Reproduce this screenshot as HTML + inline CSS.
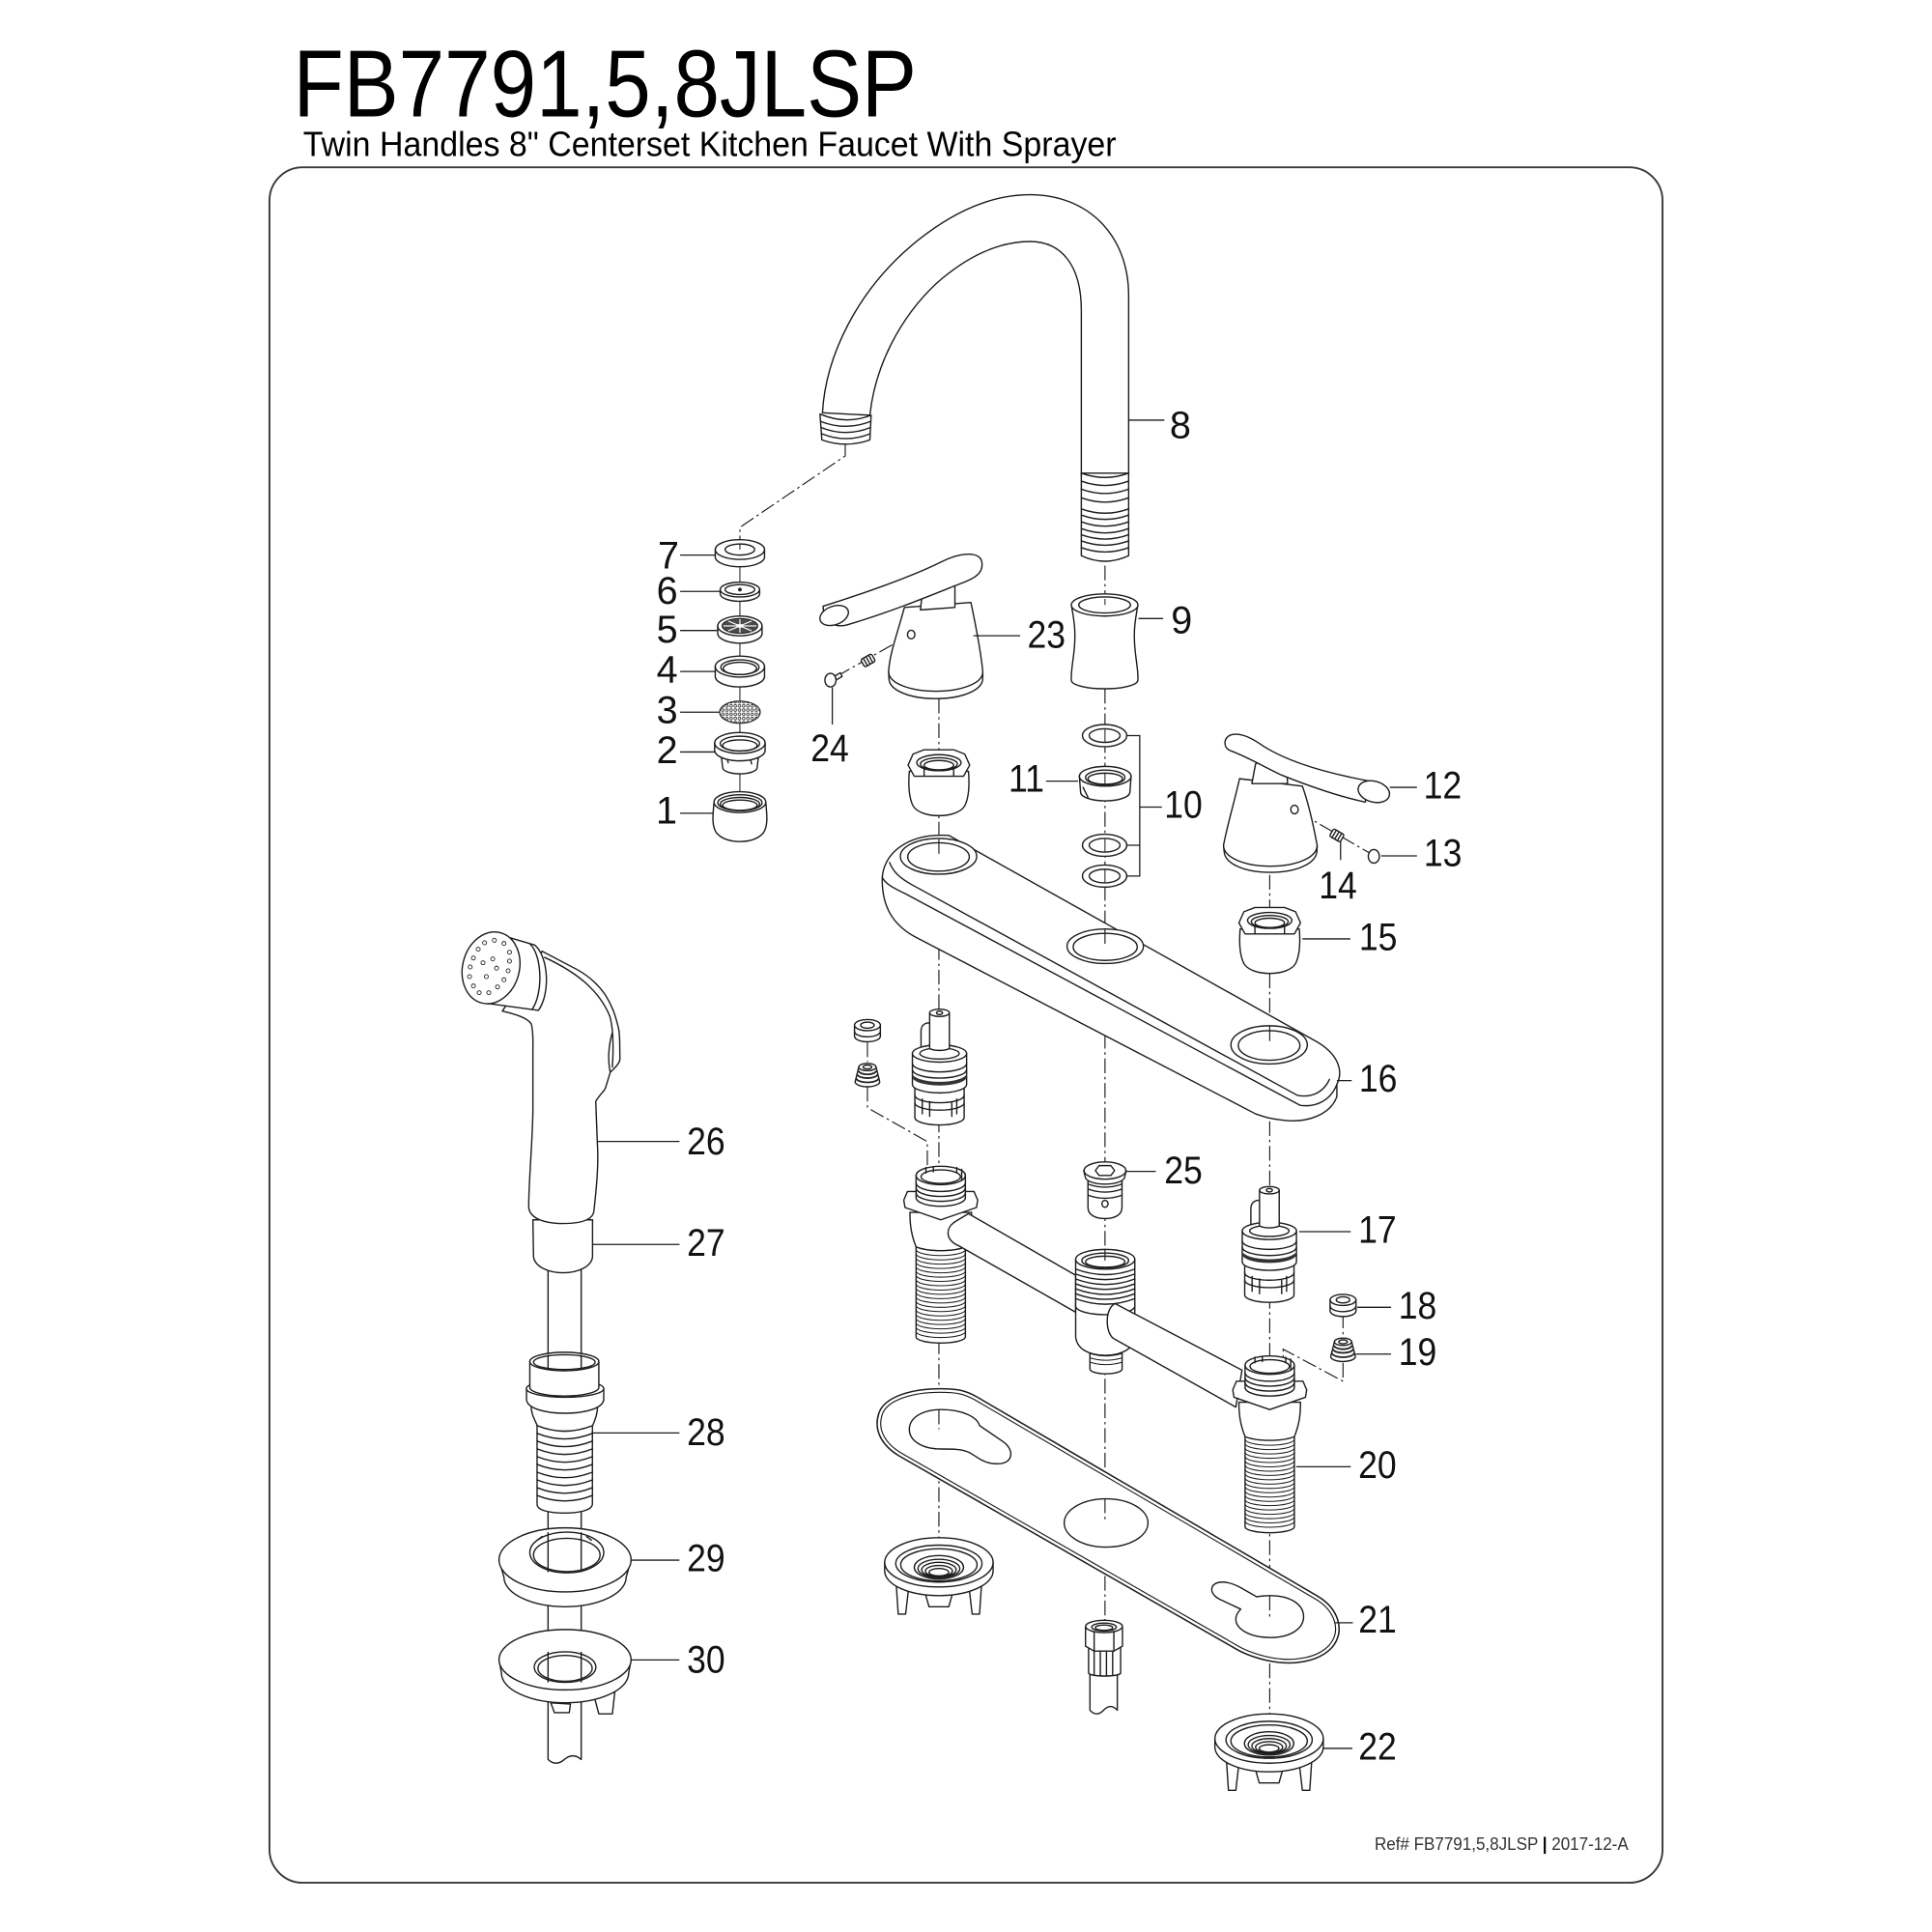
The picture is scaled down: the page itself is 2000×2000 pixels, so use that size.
<!DOCTYPE html>
<html><head><meta charset="utf-8"><title>FB7791,5,8JLSP</title>
<style>
html,body{margin:0;padding:0;background:#fff;}
svg{display:block;}
.l{fill:none;stroke:#1c1c1c;stroke-width:1.1;stroke-linejoin:round;stroke-linecap:round}
.w{fill:#fff;stroke:#1c1c1c;stroke-width:1.1;stroke-linejoin:round}
.t{fill:none;stroke:#1c1c1c;stroke-width:0.8}
.dd{fill:none;stroke:#1c1c1c;stroke-width:0.9;stroke-dasharray:12 3 2 3}
.ld{fill:none;stroke:#1c1c1c;stroke-width:1}
.n{font-family:"Liberation Sans",Arial,sans-serif;font-size:31px;fill:#111;text-anchor:middle}
</style></head>
<body>
<svg xmlns="http://www.w3.org/2000/svg" xmlns:xlink="http://www.w3.org/1999/xlink" width="2000" height="2000" viewBox="0 0 1568 1568">
<defs>
<pattern id="mesh" width="3.4" height="3.4" patternUnits="userSpaceOnUse"><rect width="3.4" height="3.4" fill="#fff"/><circle cx="1.7" cy="1.7" r="1.1" fill="none" stroke="#222" stroke-width="0.6"/></pattern>
<g id="nut">
 <path class="w" d="M738,626 C737,638 738,648 741,654 C744,659 752,662 762,662 C772,662 780,659 783,654 C786,648 787,638 786,626 Z"/>
 <path class="w" d="M737,621 L741,612 L750,608.5 L774,608.5 L783,612 L787,621 L782,630 L742,630 Z"/>
 <ellipse class="l" cx="762" cy="619" rx="18" ry="6.5"/>
 <ellipse class="l" cx="762" cy="620" rx="15" ry="5"/>
 <ellipse class="l" cx="762" cy="621" rx="12" ry="3.8"/>
 <path class="l" d="M750,623 L750,630 M774,623 L774,630"/>
</g>
<g id="cart">
 <path class="w" d="M-20,60 L-20,88 A20,6 0 0 0 20,88 L20,60 Z"/>
 <path class="l" d="M-20,70 A20,6 0 0 0 20,70 M-20,76 A20,6 0 0 0 20,76"/>
 <path class="l" d="M-14,73 L-14,85 M-8,75 L-8,87 M10,76 L10,87 M14,73 L14,85"/>
 <path class="w" d="M-15,18 C-15,12 -10,10 -6,12 L-6,36 L-15,36 Z"/>
 <path class="w" d="M-22,36 L-22,61 A22,7 0 0 0 22,61 L22,36 Z"/>
 <ellipse class="w" cx="0" cy="36" rx="22" ry="7"/>
 <ellipse class="l" cx="0" cy="36" rx="16" ry="4.5"/>
 <path class="l" d="M-22,44 A22,7 0 0 0 22,44 M-22,49 A22,7 0 0 0 22,49"/>
 <path d="M-22,52 A22,7 0 0 0 22,52 L22,55 A22,7 0 0 1 -22,55 Z" fill="#333"/>
 <path class="w" d="M-8,3 L-8,32 C-4,34 4,34 8,32 L8,3 Z"/>
 <ellipse class="w" cx="0" cy="3" rx="8" ry="3"/>
 <ellipse class="l" cx="0" cy="3" rx="2.5" ry="1.4"/>
</g>
<g id="seat">
 <path class="w" d="M-10.5,0 L-10.5,9 A10.5,4.5 0 0 0 10.5,9 L10.5,0 Z"/>
 <ellipse class="w" cx="0" cy="0" rx="10.5" ry="4.5"/>
 <ellipse class="l" cx="0" cy="0" rx="5.5" ry="2.5"/>
 <path class="l" d="M-10.5,5 A10.5,4.5 0 0 0 10.5,5"/>
</g>
<g id="spring">
 <path class="w" d="M-7,0 L-10,12 A10,4 0 0 0 10,12 L7,0 Z"/>
 <path d="M-7,3 A7,3 0 0 0 7,3 M-8,6 A8,3 0 0 0 8,6 M-9,9 A9,3.5 0 0 0 9,9" fill="none" stroke="#222" stroke-width="1.4"/>
 <ellipse class="w" cx="0" cy="0" rx="7" ry="3"/>
 <ellipse class="l" cx="0" cy="0" rx="3.5" ry="1.6"/>
</g>
<g id="vbl">
 <path class="w" d="M-20,62 L-20,139 A20,5 0 0 0 20,139 L20,62 Z"/>
 <path class="t" d="M-20,68 A20,5 0 0 0 20,68 M-20,71.5 A20,5 0 0 0 20,71.5 M-20,75 A20,5 0 0 0 20,75 M-20,78.5 A20,5 0 0 0 20,78.5 M-20,82 A20,5 0 0 0 20,82 M-20,85.5 A20,5 0 0 0 20,85.5 M-20,89 A20,5 0 0 0 20,89 M-20,92.5 A20,5 0 0 0 20,92.5 M-20,96 A20,5 0 0 0 20,96 M-20,99.5 A20,5 0 0 0 20,99.5 M-20,103 A20,5 0 0 0 20,103 M-20,106.5 A20,5 0 0 0 20,106.5 M-20,110 A20,5 0 0 0 20,110 M-20,113.5 A20,5 0 0 0 20,113.5 M-20,117 A20,5 0 0 0 20,117 M-20,120.5 A20,5 0 0 0 20,120.5 M-20,124 A20,5 0 0 0 20,124 M-20,127.5 A20,5 0 0 0 20,127.5 M-20,131 A20,5 0 0 0 20,131 M-20,134.5 A20,5 0 0 0 20,134.5"/>
 <path class="w" d="M-25,38 C-25,48 -24,56 -20,66 C-10,70 10,70 20,66 C24,56 25,48 25,38 Z"/>
</g>
<g id="vbu">
 <path class="w" d="M-30,28 L-27,21 L27,21 L30,28 L29,34 L0,44 L-29,34 Z"/>
 <path class="w" d="M-20,8 L-20,26 A20,7 0 0 0 20,26 L20,8 Z"/>
 <path class="l" d="M-20,14 A20,7 0 0 0 20,14 M-20,18 A20,7 0 0 0 20,18 M-20,22 A20,7 0 0 0 20,22"/>
 <ellipse class="w" cx="0" cy="8" rx="20" ry="7.5"/>
 <ellipse class="l" cx="0" cy="9" rx="16" ry="5.5"/>
 <path class="l" d="M-12,1.5 L-12,6 M-6,0.8 L-6,5 M13,1.5 L13,6 M17,3 L17,12"/>
</g>
<g id="mnut">
 <path class="w" d="M-35,12 L-33,42 L-27,42 L-24,16 Z"/>
 <path class="w" d="M24,16 L27,42 L33,42 L35,12 Z"/>
 <path class="l" d="M-12,22 L-8,36 L8,36 L12,22"/>
 <path class="w" d="M-44,0 L-44,7 A44,20 0 0 0 44,7 L44,0 Z"/>
 <ellipse class="w" cx="0" cy="0" rx="44" ry="20"/>
 <ellipse class="l" cx="0" cy="1" rx="35" ry="15"/>
 <ellipse class="l" cx="0" cy="2" rx="31" ry="13"/>
 <ellipse class="w" cx="0" cy="4" rx="20" ry="9.5"/>
 <ellipse class="l" cx="0" cy="5" rx="17" ry="7.5"/>
 <ellipse class="l" cx="0" cy="6" rx="14" ry="6"/>
 <ellipse class="l" cx="0" cy="7" rx="11" ry="4.5"/>
 <ellipse class="l" cx="0" cy="8" rx="8" ry="3"/>
</g>
<path id="p21" d="M763,1130 C776,1130 782,1131 791,1136 L1068,1298 C1083,1307 1089,1323 1079,1335 C1069,1346 1049,1349 1030,1345 C1021,1343 1012,1340 1005,1336 L731,1179 C718,1171 712,1160 716,1148 C720,1136 741,1130 763,1130 Z"/>
</defs>

<!-- frame & titles -->
<rect x="218.7" y="135.8" width="1130.6" height="1392.2" rx="27" ry="27" fill="none" stroke="#3a3a3a" stroke-width="1.5"/>
<text x="238" y="94.6" font-family="Liberation Sans, Arial, sans-serif" font-size="77" fill="#000" textLength="506" lengthAdjust="spacingAndGlyphs">FB7791,5,8JLSP</text>
<text x="246" y="126.8" font-family="Liberation Sans, Arial, sans-serif" font-size="28" fill="#000" textLength="660" lengthAdjust="spacingAndGlyphs">Twin Handles 8" Centerset Kitchen Faucet With Sprayer</text>
<text x="1115.6" y="1501.4" font-family="Liberation Sans, Arial, sans-serif" font-size="14.3" fill="#333" textLength="206" lengthAdjust="spacingAndGlyphs">Ref# FB7791,5,8JLSP <tspan font-weight="bold" fill="#000">|</tspan> 2017-12-A</text>

<!-- axis lines -->
<path class="dd" d="M896.8,459 L896.8,1317"/>
<path class="dd" d="M762,567 L762,1265"/>
<path class="dd" d="M1030.5,710 L1030.5,1410"/>
<path class="dd" d="M686,360 L686,370 L600.5,428 L600.5,440"/>
<path class="dd" d="M679,549 L737,516"/>
<path class="dd" d="M1054,659 L1111,692"/>
<path class="dd" d="M704,846 L704,862"/>
<path class="dd" d="M704,882 L704,899 L752.6,926.5 L752.6,946"/>
<path class="dd" d="M1090,1066 L1090,1087"/>
<path class="dd" d="M1090,1106 L1090,1121 L1041.4,1095 L1041.4,1124"/>

<!-- spout 8 -->
<path class="w" d="M667.5,335 C670,290 695,235 745,195 C775,171 805,158 836,158 C882,158 916,190 916,240 L916,386 L877.6,386 L877.6,252 C877.6,216 862,196 836,196 C810,196 785,208 760,230 C730,258 710,298 706,337 Z"/>
<path class="w" d="M665.5,336 L667,357 Q686.5,364 706,357 L707,337 Q686.5,345 665.5,336 Z"/>
<path class="l" d="M666,342 Q686.5,350 706.5,342 M666.5,347 Q686.5,355 706.3,347 M667,352 Q686.5,360 706.2,352"/>
<path class="w" d="M877.6,384 L877.6,451 Q896.8,460 916,451 L916,384 Z"/>
<path class="l" d="M877.6,384 Q896.8,391 916,384 M877.6,390.5 Q896.8,397.5 916,390.5 M877.6,397 Q896.8,404 916,397 M877.6,404 Q896.8,411 916,404 M877.6,413 Q896.8,420 916,413 M877.6,418 Q896.8,425 916,418 M877.6,423.5 Q896.8,430.5 916,423.5 M877.6,429 Q896.8,436 916,429 M877.6,434 Q896.8,441 916,434 M877.6,439 Q896.8,446 916,439 M877.6,444.5 Q896.8,451.5 916,444.5"/>

<!-- aerator stack -->
<path class="t" d="M600.5,440 L600.5,656"/>
<path class="w" d="M580.5,446 L580.5,452 A20,8 0 0 0 620.5,452 L620.5,446 Z"/><ellipse class="w" cx="600.5" cy="446" rx="20" ry="8"/><ellipse class="w" cx="600.5" cy="446" rx="12" ry="4.5"/>
<path class="t" d="M600.5,441.5 L600.5,446"/>
<path class="w" d="M584.5,478.5 L584.5,482 A16,6 0 0 0 616.5,482 L616.5,478.5 Z"/><ellipse class="w" cx="600.5" cy="478.5" rx="16" ry="6"/><ellipse class="l" cx="600.5" cy="478.5" rx="12" ry="4"/><circle cx="600.5" cy="478.5" r="1.5" fill="#222"/>
<path class="w" d="M582.5,508 L582.5,514 A18,8 0 0 0 618.5,514 L618.5,508 Z"/><ellipse class="w" cx="600.5" cy="508" rx="18" ry="8"/>
<ellipse cx="600.5" cy="508" rx="14.5" ry="6" fill="#4a4a4a" stroke="#222" stroke-width="0.8"/>
<path d="M587,508 L614,508 M600.5,502.5 L600.5,513.5 M591,504 L610,512 M591,512 L610,504" stroke="#fff" stroke-width="0.9" fill="none"/>
<ellipse cx="600.5" cy="508" rx="3" ry="1.5" fill="#fff"/>
<path class="w" d="M580.5,541 L580.5,549 A20,8.5 0 0 0 620.5,549 L620.5,541 Z"/><ellipse class="w" cx="600.5" cy="541" rx="20" ry="8.5"/><ellipse class="l" cx="600.5" cy="541.5" rx="15.5" ry="6"/><ellipse class="l" cx="600.5" cy="542.5" rx="13.5" ry="5"/>
<ellipse cx="600.5" cy="578" rx="16.5" ry="9" fill="url(#mesh)" stroke="#222" stroke-width="0.9"/>
<path class="w" d="M585,610 L586.5,623 A14,5 0 0 0 614.5,623 L616,610 Z"/>
<path class="l" d="M590,615 L591,619 M609,616 L610,620"/>
<path class="w" d="M580,603 L580,609 A20.5,8.5 0 0 0 621,609 L621,603 Z"/><ellipse class="w" cx="600.5" cy="603" rx="20.5" ry="8.5"/><ellipse class="l" cx="600.5" cy="603.5" rx="16" ry="6"/><ellipse class="l" cx="600.5" cy="605" rx="14" ry="4.5"/>
<path class="w" d="M579.5,651 C578.5,662 577.5,670 581.5,676 C586,681 593,683 600.5,683 C608,683 615,681 619.5,676 C623.5,670 622.5,662 621.5,651 Z"/>
<ellipse class="w" cx="600.5" cy="651" rx="21" ry="8.5"/><ellipse class="l" cx="600.5" cy="651.5" rx="18" ry="6.5"/><ellipse class="l" cx="600.5" cy="652.5" rx="16" ry="5.3"/><ellipse class="l" cx="600.5" cy="653.5" rx="14" ry="4.2"/>
<path class="ld" d="M552,450.5 L580.5,450.5 M552,480 L584.5,480 M552,511.7 L582.5,511.7 M552,545 L580.5,545 M552,578 L584,578 M552,610.3 L580,610.3 M552,660 L578.5,660"/>

<!-- handle 23 -->
<path class="w" d="M721.2,545 L721.5,551 C722,561 740,567 759.5,567 C779,567 797,561 797.6,551 L797.6,545 Z"/>
<path class="w" d="M734,493 C729,512 722,530 721.2,545 C721,555 740,561 759.5,561 C779,561 798,555 797.6,545 C796,528 792,508 788,489 Z"/>
<path class="w" d="M747,495 L749,477 C755,472 769,472 775,476 L775,493 Z"/>
<path class="w" d="M668,492 C700,482 740,468 764,456 C780,448 796,447 797,457 C798,466 790,470 776,475 C756,483 722,497 688,507 C678,510 668,505 668,492 Z"/>
<ellipse class="w" cx="677" cy="499.5" rx="12" ry="7.5" transform="rotate(-20 677 499.5)"/>
<ellipse class="w" cx="739.5" cy="515" rx="3" ry="3.5"/>
<g transform="translate(704.5,536) rotate(-29.4)"><rect class="w" x="-5" y="-3.5" width="10" height="7" rx="1.5"/><path d="M-2.5,-3.5 L-2.5,3.5 M0,-3.5 L0,3.5 M2.5,-3.5 L2.5,3.5" stroke="#222" stroke-width="1.1"/></g>
<path class="w" d="M677,549 L682,546 L683.5,549 L678.5,552 Z"/>
<ellipse class="w" cx="674" cy="552" rx="4.5" ry="5.5"/>
<path class="ld" d="M675.5,558 L675.5,588 M790,516 L828,516"/>
<use href="#nut" xlink:href="#nut"/>

<!-- 9, 10, 11 -->
<path class="w" d="M869.5,491 C872,505 873,512 872,525 C871,537 869,545 869.5,552 A27,7 0 0 0 923.5,552 C924,545 922,537 921,525 C920,512 921,505 923.5,491 Z"/>
<ellipse class="w" cx="896.5" cy="491" rx="27" ry="9"/><ellipse class="l" cx="896.5" cy="491" rx="21" ry="6.5"/>
<path class="t" d="M896.8,486 L896.8,491"/>
<ellipse class="w" cx="896.5" cy="597" rx="18" ry="9"/><ellipse class="w" cx="896.5" cy="597" rx="12.5" ry="5.5"/>
<path class="w" d="M876,630 L877,643 A20,7 0 0 0 917,643 L918,630 Z"/>
<ellipse class="w" cx="897" cy="630" rx="21" ry="8"/><ellipse class="l" cx="897" cy="631" rx="16" ry="6"/><ellipse class="l" cx="897" cy="632" rx="14" ry="4.5"/>
<path class="l" d="M879,639 L883,647"/>
<ellipse class="w" cx="896.5" cy="686" rx="18" ry="9"/><ellipse class="w" cx="896.5" cy="686" rx="12.5" ry="5.5"/>
<ellipse class="w" cx="896.5" cy="711" rx="18" ry="9"/><ellipse class="w" cx="896.5" cy="711" rx="12.5" ry="5.5"/>
<path class="t" d="M896.8,592 L896.8,602 M896.8,627 L896.8,637 M896.8,681 L896.8,691 M896.8,706 L896.8,716"/>
<path class="ld" d="M914.5,597 L925,597 L925,711 L914.5,711 M914.5,686 L925,686 M925,655 L943,655 M849,634 L875,634 M924,502 L944,502 M916,341 L945,341"/>

<!-- handle 12 -->
<path class="w" d="M993,686 L993.5,691 C994,701 1010,708 1031,708 C1052,708 1068,701 1068.8,691 L1069,686 Z"/>
<path class="w" d="M1006,632 C1002,650 996,670 993,686 C993,696 1010,703 1031,703 C1052,703 1069,696 1069,686 C1066,670 1062,652 1057,638 Z"/>
<path class="w" d="M1016,636 L1019,620 C1025,616 1038,616 1044,620 L1045,636 Z"/>
<path class="w" d="M998,609 C992,606 993,597 1001,596 C1008,595 1016,599 1026,606 C1042,616 1068,626 1112,634 L1108,651 C1085,646 1060,637 1040,629 C1025,622 1012,614 998,609 Z"/>
<ellipse class="w" cx="1115" cy="642.5" rx="13" ry="8.5" transform="rotate(15 1115 642.5)"/>
<ellipse class="w" cx="1050.6" cy="657" rx="3" ry="3.5"/>
<g transform="translate(1085,678) rotate(30.7)"><rect class="w" x="-5" y="-3.5" width="10" height="7" rx="1.5"/><path d="M-2.5,-3.5 L-2.5,3.5 M0,-3.5 L0,3.5 M2.5,-3.5 L2.5,3.5" stroke="#222" stroke-width="1.1"/></g>
<ellipse class="w" cx="1115" cy="695" rx="4.5" ry="5.5"/>
<path class="ld" d="M1088,683 L1088,698 M1121,694.6 L1150,694.6 M1128,639 L1150,639 M1057,762 L1096,762"/>
<use href="#nut" xlink:href="#nut" transform="translate(268.5,128)"/>

<!-- plate 16 -->
<path class="w" d="M770,678 L1066,844 C1085,854 1091,868 1085,880 L1085,890 C1080,904 1062,912 1040,909 C1030,908 1025,906 1019,904 L742,760 C724,750 716,735 716,714 C716,694 735,676 770,678 Z"/>
<path class="l" d="M1085,880 C1080,893 1068,899 1055,897 L736,726 C726,721 719,718 716,712"/>
<path class="l" d="M1079,876 C1074,887 1064,891 1053,889 L740,718 C731,713 725,708 722,700"/>
<ellipse class="w" cx="761.7" cy="695" rx="31" ry="14.5"/><ellipse class="w" cx="761.7" cy="695.5" rx="25" ry="11.5"/>
<ellipse class="w" cx="897" cy="768" rx="31" ry="14"/><ellipse class="w" cx="897" cy="768.5" rx="26" ry="11"/>
<ellipse class="w" cx="1030" cy="848" rx="31" ry="15.5"/><ellipse class="w" cx="1030" cy="848.5" rx="25" ry="12"/>
<path class="dd" d="M762,681 L762,695 M896.8,754 L896.8,768 M1030.5,833 L1030.5,848"/>
<path class="ld" d="M1085,877 L1097,877"/>

<!-- cartridges & seats -->
<use href="#cart" xlink:href="#cart" transform="translate(762.5,819)"/>
<use href="#cart" xlink:href="#cart" transform="translate(1030.2,963)"/>
<use href="#seat" xlink:href="#seat" transform="translate(704,832)"/>
<use href="#spring" xlink:href="#spring" transform="translate(704,866)"/>
<use href="#seat" xlink:href="#seat" transform="translate(1090,1055)"/>
<use href="#spring" xlink:href="#spring" transform="translate(1090,1089)"/>

<!-- 25 -->
<path class="w" d="M883,955 L883,980 C883,986 889,989 896.8,989 C904.6,989 910.6,986 910.6,980 L910.6,955 Z"/>
<path class="l" d="M883,961 Q896.8,966 910.6,961 M883,965 Q896.8,970 910.6,965 M883,970 Q896.8,975 910.6,970"/>
<path class="w" d="M879.5,950 L881,956 A16,6 0 0 0 912.6,956 L914,950 Z"/>
<ellipse class="w" cx="896.8" cy="950" rx="17" ry="7"/>
<path class="l" d="M889,950 L892,946 L901.6,946 L904.6,950 L901.6,954 L892,954 Z"/>
<ellipse class="l" cx="896.8" cy="977" rx="2.5" ry="2.8"/>

<!-- valve bodies, pipes, tee -->
<use href="#vbl" xlink:href="#vbl" transform="translate(763.5,946)"/>
<path class="w" d="M786,985 L873,1035 L873,1065 L778,1011 C768,1007 766,997 776,991 Z"/>
<use href="#vbu" xlink:href="#vbu" transform="translate(763.5,946)"/>
<path class="w" d="M884.6,1090 L884.6,1111 A13,4 0 0 0 910.7,1111 L910.7,1090 Z"/>
<path class="t" d="M884.6,1095 Q897.6,1099 910.7,1095 M884.6,1098.5 Q897.6,1102.5 910.7,1098.5 M884.6,1102 Q897.6,1106 910.7,1102 M884.6,1105.5 Q897.6,1109.5 910.7,1105.5"/>
<path class="w" d="M873,1058 L873,1085 C874,1095 884,1100 897,1100 C910,1100 920,1095 921,1085 L921,1058 Z"/>
<path class="w" d="M873,1022 L873,1060 A24,7 0 0 0 921,1060 L921,1022 Z"/>
<path class="l" d="M873,1030 Q897,1039 921,1030 M873,1034 Q897,1043 921,1034 M873,1038 Q897,1047 921,1038 M873,1042 Q897,1051 921,1042 M873,1046 Q897,1055 921,1046 M873,1050 Q897,1059 921,1050 M873,1054 Q897,1063 921,1054"/>
<ellipse class="w" cx="897" cy="1022" rx="24" ry="8"/><ellipse class="l" cx="897" cy="1023" rx="19" ry="6"/><ellipse class="l" cx="897" cy="1024" rx="16" ry="4.5"/>
<path class="dd" d="M896.8,1014 L896.8,1023"/>
<path class="w" d="M905,1058 L1008,1112 L1003,1142 L905,1087 C897,1084 896,1062 905,1058 Z"/>
<use href="#vbl" xlink:href="#vbl" transform="translate(1030.5,1100)"/>
<use href="#vbu" xlink:href="#vbu" transform="translate(1030.5,1100)"/>

<!-- plate 21 -->
<use href="#p21" xlink:href="#p21" fill="#fff" stroke="#1c1c1c" stroke-width="7"/>
<use href="#p21" xlink:href="#p21" fill="#fff" stroke="#fff" stroke-width="4.6"/>
<use href="#p21" xlink:href="#p21" fill="none" stroke="#1c1c1c" stroke-width="0.9"/>
<path class="w" d="M738,1160 C738,1151 748,1144 764,1144 C781,1144 793,1150 795,1157 L814,1170 C824,1177 822,1188 810,1188 C804,1188 800,1187 795,1184 L787,1179 C781,1176 773,1176 764,1176 C748,1176 738,1169 738,1160 Z"/>
<ellipse class="w" cx="897.7" cy="1236" rx="34" ry="19.6"/>
<path class="w" d="M1058,1312 C1058,1322 1047,1329 1031,1329 C1014,1329 1003,1322 1003,1314 C1003,1311 1005,1308 1007,1306 L990,1298 C980,1293 982,1284 992,1284 C997,1284 1002,1286 1006,1288 L1020,1296 C1024,1295 1027,1295 1031,1295 C1047,1295 1058,1302 1058,1312 Z"/>
<path class="dd" d="M762,1144 L762,1160 M896.8,1216 L896.8,1236 M1030.5,1295 L1030.5,1312"/>

<!-- mounting nuts & supply connector -->
<use href="#mnut" xlink:href="#mnut" transform="translate(762,1268)"/>
<use href="#mnut" xlink:href="#mnut" transform="translate(1030,1411)"/>
<path class="w" d="M884.6,1355 L884.6,1388 Q890,1394 895.7,1388 Q901.3,1382 906.8,1388 L906.8,1355 Z"/>
<path class="w" d="M883.5,1337 L883.5,1358 C886,1361 907,1361 909.5,1358 L909.5,1337 Z"/>
<path class="l" d="M888,1339 L888,1359 M893,1340 L893,1360 M898,1340 L898,1360 M903,1340 L903,1359"/>
<path class="w" d="M881,1320 L881,1336 L888,1340 L904,1340 L911,1336 L911,1320 Z"/>
<path class="l" d="M888,1324 L888,1340 M904,1324 L904,1340"/>
<ellipse class="w" cx="896" cy="1320" rx="15" ry="5"/><ellipse class="l" cx="896" cy="1320.5" rx="10" ry="3.2"/><ellipse class="l" cx="896" cy="1321" rx="7" ry="2.2"/>

<!-- sprayer -->
<path class="w" d="M444.8,1030 L444.8,1428 Q451,1434 458,1428 Q465,1422 471.7,1428 L471.7,1030"/>
<path class="w" d="M432.5,990 L433,1020 C434,1028 445,1033 457,1033 C469,1033 480,1028 480.9,1020 L480.9,990 Z"/>
<path class="w" d="M407.7,820.6 C418,823 428,826 431.2,831 C433,838 432.5,845 432.5,852 L432.5,901.6 C432,930 429,960 429.1,980 C430,988 440,993 457,993 C472,993 481,990 482,983 C484,965 486,945 484.8,927.7 L483.5,893.8 C487,888 490,886 491.3,883.3 L495.3,870.2 C500,866 503,862 503.1,859.8 C503,845 503,838 501.8,833.7 C499,822 496,815 491.3,807.5 C484,797 476,791 467.8,786.6 L440,772 Z"/>
<path class="l" d="M442,777 C470,790 487,805 495,825 C498,836 498,850 497,866 M495.3,870.2 C493,860 494,848 497,838"/>
<path class="w" d="M400,757 L434,767 C445,776 447,806 437,820 L393,814 Z"/>
<path class="l" d="M430,766 C440,775 441,806 432,819"/>
<ellipse class="w" cx="398.5" cy="785.5" rx="23" ry="29.5" transform="rotate(15 398.5 785.5)"/>
<g fill="none" stroke="#222" stroke-width="0.7">
<circle cx="393.3" cy="765.2" r="1.6"/><circle cx="401.2" cy="763.1" r="1.6"/><circle cx="409" cy="765.7" r="1.6"/><circle cx="413.5" cy="772.8" r="1.6"/><circle cx="388.1" cy="770.4" r="1.6"/><circle cx="384.2" cy="777.5" r="1.6"/><circle cx="381.6" cy="784.8" r="1.6"/><circle cx="381.1" cy="792.6" r="1.6"/><circle cx="384.2" cy="800.2" r="1.6"/><circle cx="388.9" cy="805.7" r="1.6"/><circle cx="396.7" cy="805.7" r="1.6"/><circle cx="403.8" cy="801" r="1.6"/><circle cx="409" cy="795.2" r="1.6"/><circle cx="412.4" cy="787.9" r="1.6"/><circle cx="413.5" cy="780.1" r="1.6"/><circle cx="392" cy="781.4" r="1.6"/><circle cx="399.9" cy="778.3" r="1.6"/><circle cx="403" cy="785.8" r="1.6"/><circle cx="394.7" cy="792.6" r="1.6"/>
</g>
<!-- 28 -->
<path class="w" d="M435.9,1150 L435.9,1221 C436,1226 447,1228 458.3,1228 C469,1228 480,1226 480.8,1221 L480.8,1150 Z"/>
<path class="l" d="M435.9,1157 Q458.3,1166 480.8,1157 M435.9,1163.3 Q458.3,1172.3 480.8,1163.3 M435.9,1169.6 Q458.3,1178.6 480.8,1169.6 M435.9,1175.9 Q458.3,1184.9 480.8,1175.9 M435.9,1182.2 Q458.3,1191.2 480.8,1182.2 M435.9,1188.5 Q458.3,1197.5 480.8,1188.5 M435.9,1194.8 Q458.3,1203.8 480.8,1194.8 M435.9,1201.1 Q458.3,1210.1 480.8,1201.1 M435.9,1207.4 Q458.3,1216.4 480.8,1207.4 M435.9,1213.7 Q458.3,1222.7 480.8,1213.7"/>
<path class="w" d="M431,1140 C431,1148 434,1152 436,1157 Q458,1166 481,1157 C483,1152 485,1148 485,1140 Z"/>
<path class="w" d="M427.3,1127 L427.3,1136 C428,1143 442,1147 458.6,1147 C475,1147 489,1143 490,1136 L490,1127 Z"/>
<ellipse class="w" cx="458.6" cy="1127" rx="31.4" ry="7"/>
<path class="w" d="M430,1105 L430,1126 A28,7 0 0 0 486,1126 L486,1105 Z"/>
<ellipse class="w" cx="458" cy="1105" rx="28" ry="7.5"/><ellipse class="w" cx="458" cy="1105.5" rx="25" ry="6"/>
<path class="l" d="M444.8,1100 L444.8,1111.5 M471.7,1100 L471.7,1111.5"/>
<!-- 29 -->
<path class="w" d="M405,1266 L409,1280 A49.6,24 0 0 0 508.2,1280 L512.2,1266 Z"/>
<ellipse class="w" cx="458.6" cy="1266" rx="53.6" ry="26"/>
<ellipse class="w" cx="460" cy="1260" rx="30" ry="16.5"/>
<ellipse class="l" cx="460" cy="1262" rx="27" ry="13.5"/>
<path class="l" d="M444.8,1244 L444.8,1275.5 M471.7,1244 L471.7,1275.5 M436,1250 L440,1247 M476,1247 L480,1250"/>
<!-- 30 -->
<path class="w" d="M482,1376 L486,1391 L497,1391 L499,1373 Z"/>
<path class="w" d="M447,1382 L450,1390 L462,1390 L463,1383 Z"/>
<path class="w" d="M405,1347 L407,1358 A51.6,24 0 0 0 510.2,1358 L512.2,1347 Z"/>
<ellipse class="w" cx="458.6" cy="1347" rx="53.6" ry="24.5"/>
<ellipse class="w" cx="458.6" cy="1353" rx="25" ry="12.4"/>
<ellipse class="l" cx="458.6" cy="1354" rx="22" ry="10.5"/>
<path class="l" d="M444.8,1341 L444.8,1365 M471.7,1341 L471.7,1365"/>

<!-- leaders right/lower -->
<path class="ld" d="M913.3,950.7 L938,950.7 M1054.5,999.6 L1096.3,999.6 M1101.5,1061 L1129,1061 M1100.2,1099 L1129,1099 M1052,1190.4 L1096.3,1190.4 M1083,1317 L1098,1317 M1074,1419 L1097.6,1419 M484.8,926.4 L551.5,926.4 M480.9,1010 L551.5,1010 M480.8,1163 L551.4,1163 M512.2,1266.2 L551.4,1266.2 M512.2,1347.2 L551.4,1347.2"/>

<!-- labels -->
<text class="n" x="542.5" y="461.3">7</text>
<text class="n" x="541.5" y="490">6</text>
<text class="n" x="541.5" y="521.4">5</text>
<text class="n" x="541.5" y="554">4</text>
<text class="n" x="541.5" y="586.7">3</text>
<text class="n" x="541.5" y="619.4">2</text>
<text class="n" x="541" y="668.5">1</text>
<text class="n" x="958" y="355.5">8</text>
<text class="n" x="959" y="514">9</text>
<text class="n" x="849.3" y="525.8" textLength="31" lengthAdjust="spacingAndGlyphs">23</text>
<text class="n" x="673.5" y="618" textLength="31" lengthAdjust="spacingAndGlyphs">24</text>
<text class="n" x="833" y="642.4" textLength="29" lengthAdjust="spacingAndGlyphs">11</text>
<text class="n" x="960.4" y="663.7" textLength="31" lengthAdjust="spacingAndGlyphs">10</text>
<text class="n" x="1170.8" y="648" textLength="31" lengthAdjust="spacingAndGlyphs">12</text>
<text class="n" x="1171" y="703" textLength="31" lengthAdjust="spacingAndGlyphs">13</text>
<text class="n" x="1085.9" y="729" textLength="31" lengthAdjust="spacingAndGlyphs">14</text>
<text class="n" x="1118.5" y="771" textLength="31" lengthAdjust="spacingAndGlyphs">15</text>
<text class="n" x="1118.5" y="886" textLength="31" lengthAdjust="spacingAndGlyphs">16</text>
<text class="n" x="960.4" y="960.4" textLength="31" lengthAdjust="spacingAndGlyphs">25</text>
<text class="n" x="1117.9" y="1008.7" textLength="31" lengthAdjust="spacingAndGlyphs">17</text>
<text class="n" x="1150.5" y="1070" textLength="31" lengthAdjust="spacingAndGlyphs">18</text>
<text class="n" x="1150.5" y="1108" textLength="31" lengthAdjust="spacingAndGlyphs">19</text>
<text class="n" x="1117.9" y="1199.5" textLength="31" lengthAdjust="spacingAndGlyphs">20</text>
<text class="n" x="1118" y="1325" textLength="31" lengthAdjust="spacingAndGlyphs">21</text>
<text class="n" x="1118" y="1428" textLength="31" lengthAdjust="spacingAndGlyphs">22</text>
<text class="n" x="573" y="937" textLength="31" lengthAdjust="spacingAndGlyphs">26</text>
<text class="n" x="573" y="1019.2" textLength="31" lengthAdjust="spacingAndGlyphs">27</text>
<text class="n" x="573" y="1172.9" textLength="31" lengthAdjust="spacingAndGlyphs">28</text>
<text class="n" x="573" y="1275.3" textLength="31" lengthAdjust="spacingAndGlyphs">29</text>
<text class="n" x="573" y="1357.6" textLength="31" lengthAdjust="spacingAndGlyphs">30</text>
</svg>
</body></html>
